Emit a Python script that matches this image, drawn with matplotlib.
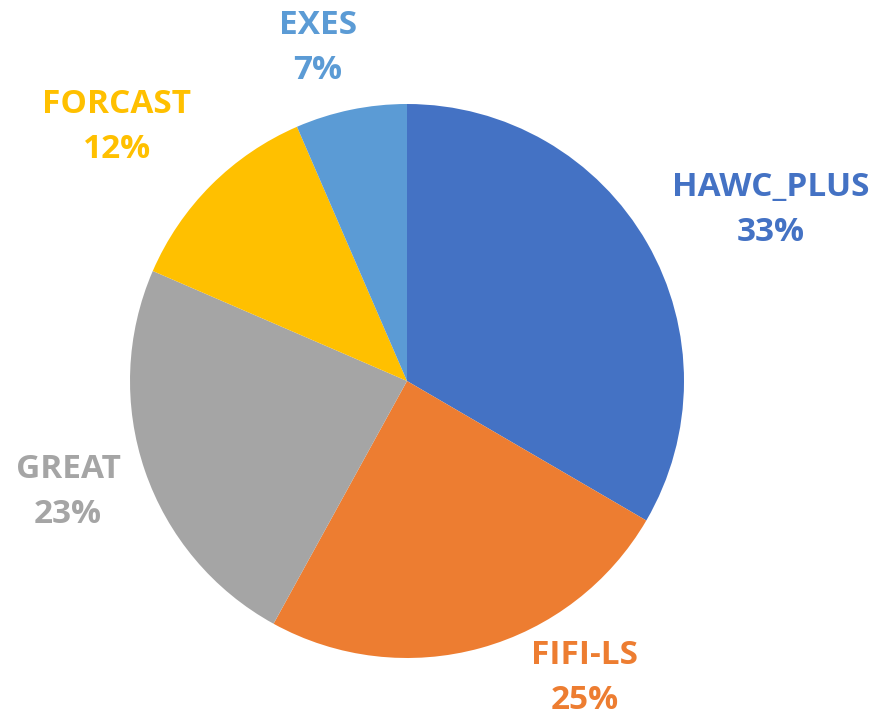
import matplotlib
matplotlib.use("Agg")
import matplotlib.pyplot as plt

categories = ["HAWC_PLUS", "FIFI-LS", "GREAT", "FORCAST", "EXES"]
values = [33.4, 24.6, 23.5, 12.0, 6.5]
pct_labels = ["33%", "25%", "23%", "12%", "7%"]
colors = ["#4472C4", "#ED7D31", "#A5A5A5", "#FFC000", "#5B9BD5"]

# label block centres in pixel coordinates (x, y from top)
label_pos = [(771, 210), (585, 678), (68, 492), (117, 127), (318, 48)]

W, H = 879, 716
fig = plt.figure(figsize=(W / 100, H / 100), dpi=100)
ax = fig.add_axes([0, 0, 1, 1])

ax.pie(values, colors=colors, startangle=90, counterclock=False,
       center=(407, H - 381), radius=277, frame=True,
       wedgeprops=dict(linewidth=0))
ax.set_xlim(0, W)
ax.set_ylim(0, H)
ax.set_aspect("equal")
ax.axis("off")

for cat, pct, col, (x, y) in zip(categories, pct_labels, colors, label_pos):
    ax.text(x, H - y, f"{cat}\n{pct}", color=col, ha="center", va="center",
            fontsize=24, fontweight="bold", family="Open Sans",
            linespacing=1.48)

fig.savefig("out.png", dpi=100)
